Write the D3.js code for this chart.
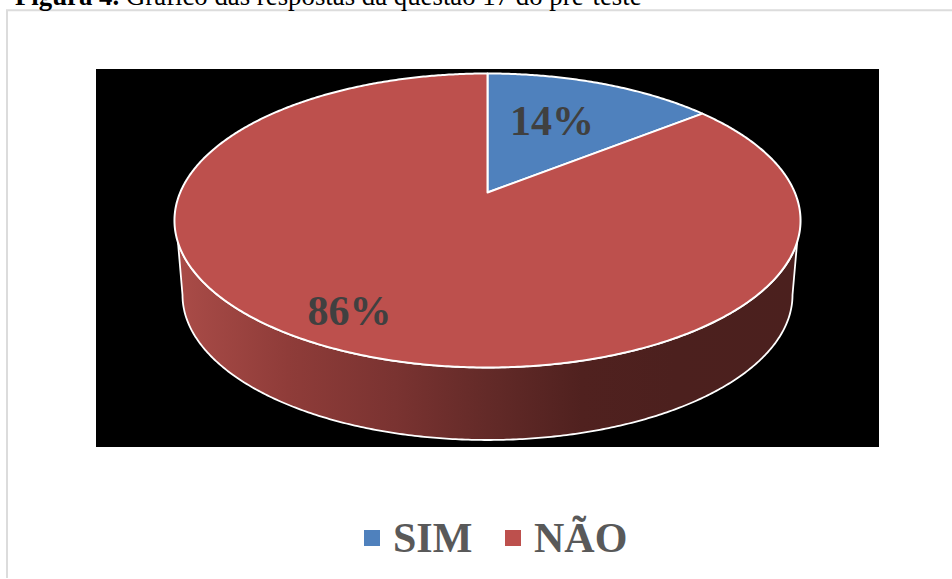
<!DOCTYPE html>
<html><head><meta charset="utf-8">
<script src="https://cdn.jsdelivr.net/npm/d3@7/dist/d3.min.js"></script>
<style>html,body{margin:0;padding:0;background:#fff;overflow:hidden}svg{display:block}text{font-family:"Liberation Serif",serif}</style>
</head><body><svg id="c" width="952" height="579"></svg>
<script>
const categories = ["SIM", "NÃO"];
const values = [14.3, 85.7];
const sliceLabels = ["14%", "86%"];
const colors = ["#4f81bd", "#bd504d"];
const titleBold = "Figura 4.";
const titleRest = " Gráfico das respostas da questão 17 do pré-teste";

const svg = d3.select("#c");
svg.append("path").attr("d","M7,578V10.2H952").attr("fill","none").attr("stroke","#dcdcdc").attr("stroke-width",2);
const t = svg.append("text").attr("x",15).attr("y",5).attr("font-size",26.8).attr("fill","#000");
t.append("tspan").attr("font-weight","bold").text(titleBold);
t.append("tspan").text(titleRest);
svg.append("rect").attr("x",96).attr("y",69).attr("width",783).attr("height",378).attr("fill","#000");

// perspective pie: unit-circle angle -> screen
const cx=487.5, apexY=192.5, a=141.67, b=307.3, k=0.1905;
const proj = th => { const u=Math.sin(th), v=Math.cos(th), w=1+k*v; return [cx+b*u/w, apexY-a*v/w]; };
const line = d3.line().curve(d3.curveLinear);

// side wall
const defs = svg.append("defs");
const g = defs.append("linearGradient").attr("id","side").attr("gradientUnits","userSpaceOnUse").attr("x1",176).attr("x2",800).attr("y1",0).attr("y2",0);
[[0,"#aa4c48"],[0.18,"#8f3c39"],[0.35,"#7a3331"],[0.5,"#632a28"],[0.65,"#50211f"],[0.8,"#4c201e"],[1,"#4b201e"]].forEach(s=>g.append("stop").attr("offset",s[0]).attr("stop-color",s[1]));
const botY=295, botRx=305, botRy=145;
const topArc = d3.range(0,2*Math.PI,0.005).map(proj).filter(p=>p[1]>=242).sort((p,q)=>p[0]-q[0]);
const botArc = d3.range(0,Math.PI+0.001,Math.PI/300).map(t=>[cx+botRx*Math.cos(t), botY+botRy*Math.sin(t)]);
const sidePts = topArc.concat(botArc);
svg.append("path").attr("d",line(sidePts)+"Z").attr("fill","url(#side)").attr("stroke","#fff").attr("stroke-width",1.8).attr("stroke-linejoin","round");

// top face
const pie = d3.pie().sort(null).value(d=>d);
const arcs = pie(values);
arcs.forEach((s,i)=>{
  const n=Math.ceil((s.endAngle-s.startAngle)*120);
  const pts=[[cx,apexY]].concat(d3.range(n+1).map(j=>proj(s.startAngle+(s.endAngle-s.startAngle)*j/n)));
  svg.append("path").attr("d",line(pts)+"Z").attr("fill",colors[i]).attr("stroke","#fff").attr("stroke-width",2).attr("stroke-linejoin","round");
});

// labels
const labelPos=[[552,135],[349.5,325]];
sliceLabels.forEach((l,i)=>svg.append("text").attr("x",labelPos[i][0]).attr("y",labelPos[i][1]).attr("text-anchor","middle").attr("font-size",42).attr("font-weight","bold").attr("fill","#404040").text(l));

// legend
const legend=[[364,393],[505,534]];
categories.forEach((c,i)=>{
  svg.append("rect").attr("x",legend[i][0]).attr("y",530).attr("width",16).attr("height",16).attr("fill",colors[i]);
  svg.append("text").attr("x",legend[i][1]).attr("y",552).attr("font-size",42).attr("font-weight","bold").attr("fill","#595959").text(c);
});
</script></body></html>
